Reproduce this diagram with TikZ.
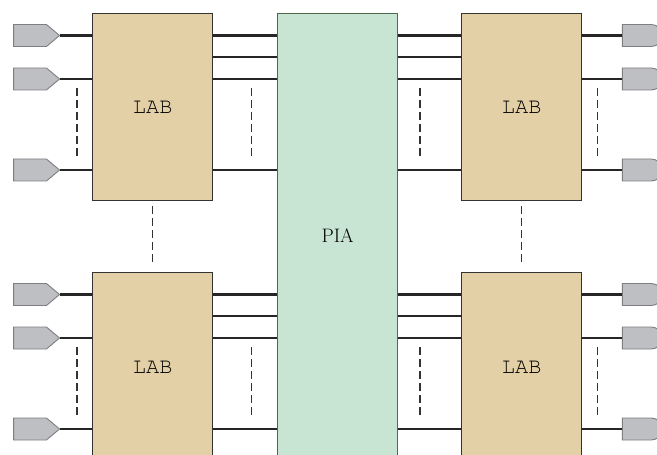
\documentclass[tikz,border=0pt]{standalone}
\usepackage{fontspec}
\setmonofont{TeX Gyre Cursor}
\usetikzlibrary{calc,shapes.symbols,shapes.misc}
\definecolor{labfill}{RGB}{227,208,167}
\definecolor{piafill}{RGB}{200,228,211}
\definecolor{pinfill}{RGB}{190,191,195}
\definecolor{pinline}{RGB}{125,125,130}
\tikzset{
	labbox/.style={draw=black!80, line width=1.3pt, fill=labfill, minimum width=120bp, inner sep=0pt, anchor=north west, font=\ttfamily\fontsize{22bp}{22bp}\selectfont},
	piabox/.style={draw=black!70!green!40!gray, line width=1.3pt, fill=piafill, minimum width=120bp, inner sep=0pt, anchor=north west, font=\fontsize{19.5bp}{19.5bp}\selectfont},
	lpin/.style={signal, signal to=east, signal pointer angle=80, draw=pinline, fill=pinfill, line width=0.9pt, minimum width=46bp, minimum height=22bp, inner sep=0pt},
	rpin/.style={rounded rectangle, rounded rectangle left arc=none, draw=pinline, fill=pinfill, line width=0.9pt, minimum width=40bp, minimum height=22bp, inner sep=0pt},
	wire/.style={line width=2.5pt, black!85},
	gap/.style={line width=1.2pt, black!80, dash pattern=on 8bp off 4bp}
}
\begin{document}
\begin{tikzpicture}[x=1bp,y=-1bp]
	\useasboundingbox (0,0) rectangle (657,455);
	\clip (0,0) rectangle (657,455);
	%blocks
	\node[piabox, minimum height=444bp] (pia) at (277,13) {PIA};
	\node[labbox, minimum height=187bp] (labLu) at (92,13) {LAB};
	\node[labbox, minimum height=187bp] (labRu) at (461,13) {LAB};
	\node[labbox, minimum height=190bp] (labLd) at (92,272) {LAB};
	\node[labbox, minimum height=190bp] (labRd) at (461,272) {LAB};
	%pins and busses
	\foreach \r in {u, d} {
		\foreach \dy [count=\i] in {22.5, 66, 157} {
			\node[lpin] (pinL\r\i) at ($(labL\r.north west)+(-62,\dy)$) {};
			\node[rpin] (pinR\r\i) at ($(labR\r.north east)+(60,\dy)$) {};
			\draw[wire] (pinL\r\i.east) -- (pinL\r\i.east -| labL\r.west);
			\draw[wire] (pinR\r\i.west) -- (pinR\r\i.west -| labR\r.east);
		}
		\foreach \dy in {22.5, 44, 66, 157} {
			\draw[wire] ($(labL\r.north east)+(0,\dy)$) coordinate (a) -- (a -| pia.west);
			\draw[wire] ($(labR\r.north west)+(0,\dy)$) coordinate (b) -- (b -| pia.east);
		}
		\draw[gap] ($(labL\r.north west)+(-15,75)$) -- ++(0,72);
		\draw[gap] ($(labL\r.north east)+(38,75)$) -- ++(0,72);
		\draw[gap] ($(labR\r.north west)+(-41,75)$) -- ++(0,72);
		\draw[gap] ($(labR\r.north east)+(15,75)$) -- ++(0,72);
	}
	%between rows
	\draw[gap, shorten <=5bp, shorten >=7bp] (labLu.south) -- (labLd.north);
	\draw[gap, shorten <=5bp, shorten >=7bp] (labRu.south) -- (labRd.north);
\end{tikzpicture}
\end{document}
